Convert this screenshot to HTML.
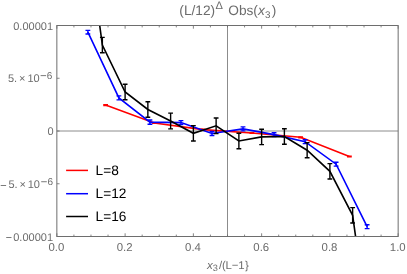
<!DOCTYPE html>
<html><head><meta charset="utf-8"><title>chart</title>
<style>html,body{margin:0;padding:0;background:#fff;overflow:hidden}body{width:407px;height:274px;position:relative;font-family:"Liberation Sans",sans-serif}</style></head>
<body>
<svg width="407" height="274" viewBox="0 0 407 274" style="position:absolute;left:0;top:0;will-change:transform;text-rendering:geometricPrecision">
<rect width="407" height="274" fill="#fff"/>
<defs><clipPath id="c"><rect x="56.85" y="25.5" width="341.29999999999995" height="211.0"/></clipPath></defs>
<path d="M56.85 131.00H398.15" stroke="#8c8c8c" stroke-width="1"/>
<path d="M227.50 25.5V236.5" stroke="#8c8c8c" stroke-width="1"/>
<path d="M56.85 236.5v-3.2M56.85 25.5v3.2M73.91 236.5v-1.9M73.91 25.5v1.9M90.98 236.5v-1.9M90.98 25.5v1.9M108.04 236.5v-1.9M108.04 25.5v1.9M125.11 236.5v-3.2M125.11 25.5v3.2M142.17 236.5v-1.9M142.17 25.5v1.9M159.24 236.5v-1.9M159.24 25.5v1.9M176.30 236.5v-1.9M176.30 25.5v1.9M193.37 236.5v-3.2M193.37 25.5v3.2M210.43 236.5v-1.9M210.43 25.5v1.9M227.50 236.5v-1.9M227.50 25.5v1.9M244.56 236.5v-1.9M244.56 25.5v1.9M261.63 236.5v-3.2M261.63 25.5v3.2M278.69 236.5v-1.9M278.69 25.5v1.9M295.76 236.5v-1.9M295.76 25.5v1.9M312.82 236.5v-1.9M312.82 25.5v1.9M329.89 236.5v-3.2M329.89 25.5v3.2M346.95 236.5v-1.9M346.95 25.5v1.9M364.02 236.5v-1.9M364.02 25.5v1.9M381.08 236.5v-1.9M381.08 25.5v1.9M398.15 236.5v-3.2M398.15 25.5v3.2M56.85 25.50h2.7M56.85 78.25h2.7M56.85 131.00h2.7M56.85 183.75h2.7M56.85 236.50h2.7" stroke="#666" stroke-width="0.8" fill="none"/>
<g clip-path="url(#c)">
<polyline points="105.61,105.10 154.36,123.00 203.12,129.60 251.88,133.00 300.64,137.30 349.39,156.50" fill="none" stroke="#ff0000" stroke-width="1.6" stroke-linejoin="miter"/>
<path d="M105.61 104.70V105.50M103.21 104.70H108.01M103.21 105.50H108.01M154.36 122.60V123.40M151.96 122.60H156.76M151.96 123.40H156.76M203.12 129.20V130.00M200.72 129.20H205.52M200.72 130.00H205.52M251.88 132.60V133.40M249.48 132.60H254.28M249.48 133.40H254.28M300.64 136.90V137.70M298.24 136.90H303.04M298.24 137.70H303.04M349.39 156.10V156.90M346.99 156.10H351.79M346.99 156.90H351.79" stroke="#ff0000" stroke-width="1.4" fill="none"/>
<polyline points="87.88,32.20 118.90,97.90 149.93,122.10 180.96,122.60 211.99,133.50 243.01,128.90 274.04,134.60 305.07,141.70 336.10,164.20 367.12,226.70" fill="none" stroke="#0000ff" stroke-width="1.6" stroke-linejoin="miter"/>
<path d="M87.88 30.40V34.00M85.48 30.40H90.28M85.48 34.00H90.28M118.90 95.90V99.90M116.50 95.90H121.30M116.50 99.90H121.30M149.93 120.00V124.20M147.53 120.00H152.33M147.53 124.20H152.33M180.96 120.60V124.60M178.56 120.60H183.36M178.56 124.60H183.36M211.99 131.50V135.50M209.59 131.50H214.39M209.59 135.50H214.39M243.01 126.90V130.90M240.61 126.90H245.41M240.61 130.90H245.41M274.04 132.70V136.50M271.64 132.70H276.44M271.64 136.50H276.44M305.07 139.80V143.60M302.67 139.80H307.47M302.67 143.60H307.47M336.10 162.30V166.10M333.70 162.30H338.50M333.70 166.10H338.50M367.12 224.80V228.60M364.72 224.80H369.52M364.72 228.60H369.52" stroke="#0000ff" stroke-width="1.4" fill="none"/>
<polyline points="79.60,-123.62 102.36,45.10 125.11,92.00 147.86,109.50 170.62,121.00 193.37,133.30 216.12,125.80 238.88,141.00 261.63,136.90 284.38,136.50 307.14,150.20 329.89,171.30 352.64,215.30 375.40,379.38" fill="none" stroke="#000000" stroke-width="1.6" stroke-linejoin="miter"/>
<path d="M102.36 37.40V52.80M99.96 37.40H104.76M99.96 52.80H104.76M125.11 84.30V99.70M122.71 84.30H127.51M122.71 99.70H127.51M147.86 101.70V117.30M145.46 101.70H150.26M145.46 117.30H150.26M170.62 113.10V128.90M168.22 113.10H173.02M168.22 128.90H173.02M193.37 125.60V141.00M190.97 125.60H195.77M190.97 141.00H195.77M216.12 118.00V133.60M213.72 118.00H218.52M213.72 133.60H218.52M238.88 133.30V148.70M236.48 133.30H241.28M236.48 148.70H241.28M261.63 129.20V144.60M259.23 129.20H264.03M259.23 144.60H264.03M284.38 128.80V144.20M281.98 128.80H286.78M281.98 144.20H286.78M307.14 142.60V157.80M304.74 142.60H309.54M304.74 157.80H309.54M329.89 163.60V179.00M327.49 163.60H332.29M327.49 179.00H332.29M352.64 207.60V223.00M350.24 207.60H355.04M350.24 223.00H355.04" stroke="#000000" stroke-width="1.4" fill="none"/>
</g>
<rect x="56.85" y="25.5" width="341.29999999999995" height="211.00" fill="none" stroke="#6e6e6e" stroke-width="1"/>
<path d="M66.1 170.4H88" stroke="#ff0000" stroke-width="1.5"/>
<path d="M66.1 193.7H88" stroke="#0000ff" stroke-width="1.5"/>
<path d="M66.1 216.5H88" stroke="#000000" stroke-width="1.5"/>
<text x="95.6" y="175.4" font-family="Liberation Sans, sans-serif" font-size="13.7" fill="#000">L=8</text>
<text x="95.6" y="198.3" font-family="Liberation Sans, sans-serif" font-size="13.7" fill="#000">L=12</text>
<text x="95.6" y="221.1" font-family="Liberation Sans, sans-serif" font-size="13.7" fill="#000">L=16</text>
<text x="56.45" y="250.9" font-family="Liberation Sans, sans-serif" font-size="11.4" fill="#6c6c6c" text-anchor="middle">0.0</text>
<text x="124.71" y="250.9" font-family="Liberation Sans, sans-serif" font-size="11.4" fill="#6c6c6c" text-anchor="middle">0.2</text>
<text x="192.97" y="250.9" font-family="Liberation Sans, sans-serif" font-size="11.4" fill="#6c6c6c" text-anchor="middle">0.4</text>
<text x="261.23" y="250.9" font-family="Liberation Sans, sans-serif" font-size="11.4" fill="#6c6c6c" text-anchor="middle">0.6</text>
<text x="329.49" y="250.9" font-family="Liberation Sans, sans-serif" font-size="11.4" fill="#6c6c6c" text-anchor="middle">0.8</text>
<text x="397.75" y="250.9" font-family="Liberation Sans, sans-serif" font-size="11.4" fill="#6c6c6c" text-anchor="middle">1.0</text>
<text x="53" y="29.7" font-family="Liberation Sans, sans-serif" font-size="11" fill="#6c6c6c" text-anchor="end">0.00001</text>
<text x="53" y="240.7" font-family="Liberation Sans, sans-serif" font-size="11" fill="#6c6c6c" text-anchor="end">0.00001</text><rect x="6.2" y="237.1" width="5.3" height="0.9" fill="#6c6c6c"/>
<text x="53.6" y="135.1" font-family="Liberation Sans, sans-serif" font-size="11" fill="#6c6c6c" text-anchor="end">0</text>
<text y="82.4" font-family="Liberation Sans, sans-serif" font-size="11" fill="#6c6c6c"><tspan x="8">5.</tspan><tspan x="19">×</tspan><tspan x="27.4">10</tspan><tspan x="46.8" y="78.7" font-size="10">6</tspan></text><rect x="40.6" y="75.2" width="5.5" height="0.9" fill="#6c6c6c"/>
<text y="188.1" font-family="Liberation Sans, sans-serif" font-size="11" fill="#6c6c6c"><tspan x="8.4">5.</tspan><tspan x="19.4">×</tspan><tspan x="27.7">10</tspan><tspan x="47.6" y="185.0" font-size="10">6</tspan></text><rect x="41.2" y="181.3" width="5.6" height="0.9" fill="#6c6c6c"/><rect x="0.7" y="185.1" width="5.4" height="0.9" fill="#6c6c6c"/>
<text x="179.35" y="14.8" font-family="Liberation Sans, sans-serif" font-size="13.7" fill="#6c6c6c">(L/12)<tspan font-size="11.1" dy="-6.1" dx="0.3">Δ</tspan><tspan dy="6.1" dx="1.6"> Obs(</tspan><tspan font-style="italic">x</tspan><tspan font-size="9.8" dy="2.9" dx="0.3">3</tspan><tspan dy="-2.9" dx="1.2" font-size="13.7">)</tspan></text>
<text x="206.9" y="268.5" font-family="Liberation Sans, sans-serif" font-size="11.6" fill="#6c6c6c"><tspan font-style="italic">x</tspan><tspan font-size="9.2" dy="2.2">3</tspan><tspan dy="-2.2" dx="1.2" font-size="11.4" letter-spacing="-0.2">/(L−1</tspan><tspan dx="0.8" font-size="11.4">}</tspan></text>
</svg>
</body></html>
